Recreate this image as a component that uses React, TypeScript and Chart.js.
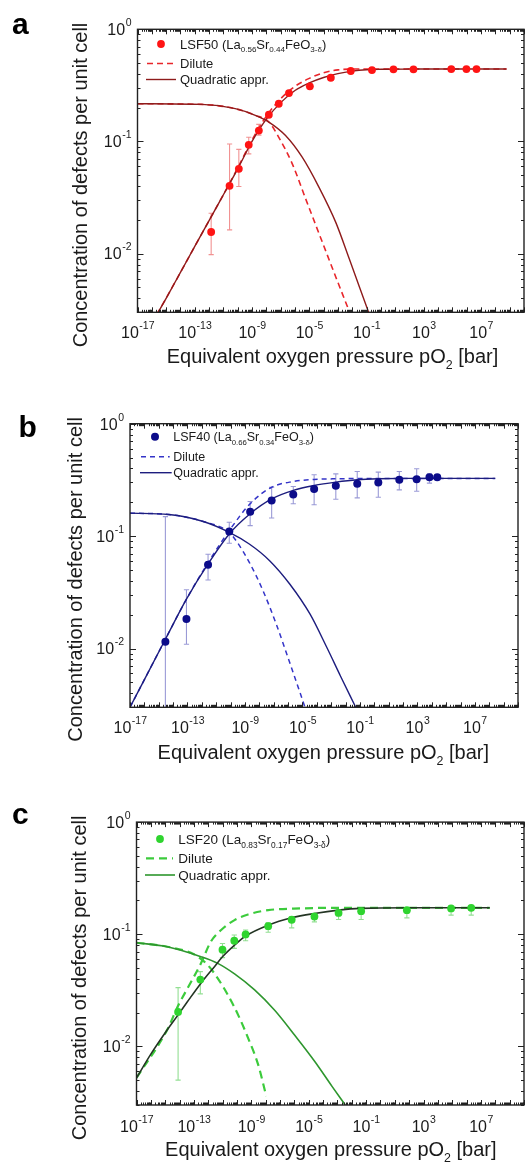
import React, { useEffect, useRef } from "react";
import { Chart, registerables } from "chart.js";
Chart.register(...registerables);

const FONT = 'Arial, "Liberation Sans", Helvetica, sans-serif';

// ---------------- Panel a : LSF50 ----------------
const A_PTS_X = [1.4e-12, 2.7e-11, 1.2e-10, 5.9e-10, 3.0e-9, 1.5e-8, 7.4e-8, 3.8e-7, 1.1e-5, 3.2e-4, 7.9e-3, 0.24, 7.6, 190, 8.3e4, 9.5e5, 4.8e6];
const A_PTS_Y = [0.0156, 0.0402, 0.057, 0.0933, 0.125, 0.173, 0.217, 0.27, 0.31, 0.37, 0.425, 0.433, 0.44, 0.44, 0.442, 0.442, 0.442];
const A_ERR_LO = [0.0098, 0.0163, 0.0397, 0.0776, 0.114, null, null, null, null, null, null, null, null, null, null, null, null];
const A_ERR_HI = [0.0229, 0.095, 0.085, 0.109, 0.142, null, null, null, null, null, null, null, null, null, null, null, null];
const A_QR_X = [1e-16, 1e-15, 1e-14, 1e-13, 1e-12, 1e-11, 1e-10, 1e-9, 1e-8, 1e-7, 1e-6, 1e-5, 1e-4, 1e-3, 1e-2, 1e-1, 1, 100, 6e8];
const A_QR_Y = [0.0024, 0.004, 0.0068, 0.0116, 0.0197, 0.0335, 0.057, 0.1, 0.158, 0.222, 0.285, 0.333, 0.372, 0.403, 0.424, 0.436, 0.44, 0.442, 0.443];
const A_DR_X = [1e-16, 1e-15, 1e-14, 1e-13, 1e-12, 1e-11, 1e-10, 1e-9, 1e-8, 1e-7, 1e-6, 1e-5, 1e-4, 1e-3, 1e-2, 6e8];
const A_DR_Y = [0.0024, 0.004, 0.0068, 0.0116, 0.0197, 0.0335, 0.058, 0.103, 0.168, 0.24, 0.31, 0.365, 0.41, 0.435, 0.442, 0.443];
const A_QF_X = [1e-17, 3.1e-13, 6.8e-11, 1.7e-9, 1.5e-8, 2.2e-7, 3.2e-6, 4.8e-5, 7.1e-4, 6.2e-3, 3.1e-2, 0.14];
const A_QF_Y = [0.217, 0.214, 0.196, 0.171, 0.149, 0.113, 0.0724, 0.039, 0.019, 0.009, 0.0051, 0.003];
const A_DF_X = [1e-17, 3.1e-13, 6.8e-11, 1.7e-9, 1.5e-8, 7.4e-8, 6.5e-7, 5.6e-6, 4.8e-5, 7.1e-4, 6.6e-3];
const A_DF_Y = [0.217, 0.214, 0.196, 0.171, 0.149, 0.109, 0.0632, 0.0308, 0.0151, 0.0062, 0.003];

// ---------------- Panel b : LSF40 ----------------
const B_PTS_X = [2.9e-15, 8.5e-14, 2.7e-12, 8.1e-11, 2.3e-9, 7.2e-8, 2.3e-6, 6.5e-5, 2.1e-3, 6.5e-2, 1.9, 55, 890, 6.9e3, 2.4e4];
const B_PTS_Y = [0.0115, 0.0183, 0.0557, 0.11, 0.165, 0.207, 0.234, 0.262, 0.28, 0.292, 0.3, 0.317, 0.321, 0.3345, 0.3345];
const B_ERR_LO = [0.0005, 0.0109, 0.0407, 0.0863, 0.124, 0.145, 0.194, 0.19, 0.213, 0.219, 0.222, 0.258, 0.251, 0.296, null];
const B_ERR_HI = [0.149, 0.0333, 0.069, 0.133, 0.203, 0.272, 0.276, 0.351, 0.358, 0.376, 0.371, 0.376, 0.397, 0.358, null];
const B_QR_X = [1e-17, 2.9e-15, 8.5e-14, 2.7e-12, 8.1e-11, 2.3e-9, 7.2e-8, 2.3e-6, 6.5e-5, 2.1e-3, 6.5e-2, 1.9, 120, 2.6e8];
const B_QR_Y = [0.003, 0.0121, 0.0275, 0.0565, 0.1045, 0.158, 0.214, 0.255, 0.282, 0.302, 0.317, 0.3235, 0.326, 0.326];
const B_DR_X = [1e-17, 2.9e-15, 8.5e-14, 2.7e-12, 8.1e-11, 2.3e-9, 7.2e-8, 2.3e-6, 6.5e-5, 2.5e-3, 1.0, 2.6e8];
const B_DR_Y = [0.003, 0.0121, 0.0275, 0.058, 0.112, 0.194, 0.272, 0.306, 0.319, 0.3235, 0.326, 0.326];
const B_QF_X = [1e-17, 4.9e-15, 1.1e-12, 8.1e-11, 2.0e-9, 5.2e-8, 1.3e-6, 3.4e-5, 5.0e-4, 4.4e-3, 5.1e-2];
const B_QF_Y = [0.16, 0.1555, 0.1355, 0.108, 0.0851, 0.0605, 0.0375, 0.0202, 0.0102, 0.0057, 0.003];
const B_DF_X = [1e-17, 4.9e-15, 1.1e-12, 8.1e-11, 2.4e-10, 2.0e-9, 1.8e-8, 1.5e-7, 1.3e-6, 6.8e-6, 1.5e-5];
const B_DF_Y = [0.16, 0.1555, 0.1355, 0.108, 0.0912, 0.0585, 0.0327, 0.0165, 0.0075, 0.00405, 0.003];

// ---------------- Panel c : LSF20 ----------------
const C_PTS_X = [7.9e-15, 2.8e-13, 9.8e-12, 6.5e-11, 4.0e-10, 1.5e-8, 6.5e-7, 2.5e-5, 1.2e-3, 4.5e-2, 69, 8.3e4, 2.1e6];
const C_PTS_Y = [0.0203, 0.0394, 0.0728, 0.0875, 0.0997, 0.118, 0.1346, 0.144, 0.155, 0.1607, 0.164, 0.17, 0.172];
const C_ERR_LO = [0.005, 0.0294, 0.0618, 0.0748, 0.0876, 0.104, 0.114, 0.129, 0.1355, 0.1355, 0.14, 0.148, 0.148];
const C_ERR_HI = [0.0334, 0.0464, 0.0828, 0.0985, 0.109, 0.127, 0.144, 0.152, 0.162, 0.168, 0.17, 0.176, 0.178];
const C_QR_X = [1e-17, 9.5e-17, 1.4e-15, 7.9e-15, 3.6e-14, 3.1e-13, 2.7e-12, 9.8e-12, 6.8e-11, 4.0e-10, 1.5e-8, 6.5e-7, 2.5e-5, 1.2e-3, 4.5e-2, 69, 4.1e7];
const C_QR_Y = [0.00523, 0.00844, 0.01406, 0.0191, 0.0251, 0.0366, 0.0514, 0.063, 0.08, 0.0964, 0.1205, 0.14, 0.153, 0.164, 0.17, 0.172, 0.172];
const C_DR_X = [1e-17, 1.4e-15, 7.9e-15, 3.6e-14, 3.1e-13, 1.5e-12, 7.9e-12, 6.8e-11, 5.9e-10, 1.5e-8, 3.2e-6, 7.1e-4, 4.1e7];
const C_DR_Y = [0.00523, 0.0141, 0.023, 0.033, 0.055, 0.0858, 0.109, 0.1336, 0.15, 0.164, 0.17, 0.172, 0.172];
const C_QF_X = [1e-17, 1.4e-15, 3.1e-13, 4.6e-12, 6.8e-11, 1.7e-9, 4.4e-8, 1.1e-6, 2.8e-5, 4.2e-4, 3.5e-3];
const C_QF_Y = [0.084, 0.0774, 0.0631, 0.055, 0.0443, 0.0319, 0.0209, 0.0125, 0.00726, 0.0044, 0.003];
const C_DF_X = [1e-17, 1.4e-15, 1.0e-13, 9.1e-13, 4.6e-12, 2.3e-11, 1.2e-10, 5.9e-10, 3.0e-9, 1.1e-8];
const C_DF_Y = [0.084, 0.0774, 0.0662, 0.0532, 0.0404, 0.0288, 0.0191, 0.0119, 0.00687, 0.0036];

// ---------------- axes / text ----------------
const X_MIN = 1e-17;
const X_MAX = 1e10;
const Y_MIN = 0.003;
const Y_MAX = 1;
const X_LABEL_EXPS = [-17, -13, -9, -5, -1, 3, 7];
const Y_LABEL_EXPS = [0, -1, -2];
const Y_TITLE = "Concentration of defects per unit cell";
const X_TITLE_PARTS = [{ t: "Equivalent oxygen pressure pO" }, { t: "2", sub: true }, { t: " [bar]" }];
const DILUTE_LABEL = "Dilute";
const QUAD_LABEL = "Quadratic appr.";
const A_LEGEND = [{ t: "LSF50 (La" }, { t: "0.56", sub: true }, { t: "Sr" }, { t: "0.44", sub: true }, { t: "FeO" }, { t: "3-δ", sub: true }, { t: ")" }];
const B_LEGEND = [{ t: "LSF40 (La" }, { t: "0.66", sub: true }, { t: "Sr" }, { t: "0.34", sub: true }, { t: "FeO" }, { t: "3-δ", sub: true }, { t: ")" }];
const C_LEGEND = [{ t: "LSF20 (La" }, { t: "0.83", sub: true }, { t: "Sr" }, { t: "0.17", sub: true }, { t: "FeO" }, { t: "3-δ", sub: true }, { t: ")" }];

type Part = { t: string; sub?: boolean };

const zip = (xs: number[], ys: (number | null)[]) => xs.map((x, i) => ({ x, y: ys[i] as number }));

const PANELS = [
  {
    letter: "a", top: 0, H: 390,
    area: { left: 137.5, right: 526, top: 29.3, bottom: 312.3 },
    pts: [A_PTS_X, A_PTS_Y, A_ERR_LO, A_ERR_HI], qr: [A_QR_X, A_QR_Y], dr: [A_DR_X, A_DR_Y], qf: [A_QF_X, A_QF_Y], df: [A_DF_X, A_DF_Y],
    dot: "#ff1414", err: "rgba(236,110,110,0.75)", qrCol: "#8e1b1b", qfCol: "#8e1b1b", dash: "#e8262b",
    dashPat: [6, 4], dashW: 1.6, solidW: 1.4, r: 3.9,
    legend: A_LEGEND, legFont: 13, legDot: [161, 44], legTextX: 180, legRows: [44, 63.5, 79.5], legLine: [146, 176],
    yTitle: [87, 185], xTitle: [332.5, 363.3], letterPos: [12, 34], xLabGap: 26,
  },
  {
    letter: "b", top: 390, H: 385,
    area: { left: 130, right: 518, top: 33.7, bottom: 317.3 },
    pts: [B_PTS_X, B_PTS_Y, B_ERR_LO, B_ERR_HI], qr: [B_QR_X, B_QR_Y], dr: [B_DR_X, B_DR_Y], qf: [B_QF_X, B_QF_Y], df: [B_DF_X, B_DF_Y],
    dot: "#0c0c8a", err: "rgba(120,120,200,0.75)", qrCol: "#1d1d7e", qfCol: "#1d1d7e", dash: "#3434c8",
    dashPat: [5, 4], dashW: 1.5, solidW: 1.4, r: 4,
    legend: B_LEGEND, legFont: 12.5, legDot: [155, 46.7], legTextX: 173.3, legRows: [46.7, 66.7, 82.7], legLine: [140, 171.7],
    yTitle: [82, 189.4], xTitle: [323.3, 369], letterPos: [18.5, 47], xLabGap: 26,
  },
  {
    letter: "c", top: 775, H: 389,
    area: { left: 136.5, right: 526, top: 47.1, bottom: 330 },
    pts: [C_PTS_X, C_PTS_Y, C_ERR_LO, C_ERR_HI], qr: [C_QR_X, C_QR_Y], dr: [C_DR_X, C_DR_Y], qf: [C_QF_X, C_QF_Y], df: [C_DF_X, C_DF_Y],
    dot: "#2fd42f", err: "rgba(120,215,120,0.8)", qrCol: "#243524", qfCol: "#2e962e", dash: "#3ccb3c",
    dashPat: [8, 5], dashW: 2.2, solidW: 1.6, r: 3.9,
    legend: C_LEGEND, legFont: 13.5, legDot: [160, 64], legTextX: 178.3, legRows: [64, 83.3, 100], legLine: [145, 175],
    yTitle: [86, 202.9], xTitle: [330.8, 381], letterPos: [12, 49], xLabGap: 27,
  },
];

function drawRich(ctx: CanvasRenderingContext2D, parts: Part[], x: number, y: number, size: number, measureOnly = false) {
  let cx = x;
  for (const p of parts) {
    const fs = p.sub ? size * 0.62 : size;
    ctx.font = `${fs}px ${FONT}`;
    if (!measureOnly) ctx.fillText(p.t, cx, p.sub ? y + size * 0.28 : y);
    cx += ctx.measureText(p.t).width;
  }
  return cx - x;
}

function makePlugin(cfg: any) {
  return {
    id: "decor" + cfg.letter,
    beforeDatasetsDraw(chart: any) {
      const { ctx, chartArea: ca } = chart;
      const xs = chart.scales.x, ys = chart.scales.y;
      const [px, , lo, hi] = cfg.pts;
      ctx.save();
      ctx.beginPath();
      ctx.rect(ca.left, ca.top, ca.right - ca.left, ca.bottom - ca.top);
      ctx.clip();
      ctx.strokeStyle = cfg.err;
      ctx.lineWidth = 1.1;
      for (let i = 0; i < px.length; i++) {
        if (lo[i] == null || hi[i] == null) continue;
        const x = xs.getPixelForValue(px[i]);
        const y1 = ys.getPixelForValue(lo[i]);
        const y2 = ys.getPixelForValue(hi[i]);
        ctx.beginPath();
        ctx.moveTo(x, y1); ctx.lineTo(x, y2);
        ctx.moveTo(x - 2.6, y1); ctx.lineTo(x + 2.6, y1);
        ctx.moveTo(x - 2.6, y2); ctx.lineTo(x + 2.6, y2);
        ctx.stroke();
      }
      ctx.restore();
    },
    afterDraw(chart: any) {
      const { ctx, chartArea: ca } = chart;
      const xs = chart.scales.x, ys = chart.scales.y;
      ctx.save();
      // frame
      ctx.strokeStyle = "#222";
      ctx.lineWidth = 1.4;
      ctx.strokeRect(ca.left, ca.top, ca.right - ca.left, ca.bottom - ca.top);
      // ticks
      ctx.lineWidth = 1;
      ctx.beginPath();
      for (let e = -17; e <= 10; e++) {
        for (let m = 1; m <= 9; m++) {
          const v = m * Math.pow(10, e);
          if (v < X_MIN * 0.999 || v > X_MAX * 1.001) continue;
          const x = Math.round(xs.getPixelForValue(v)) + 0.5;
          const L = m === 1 ? 5 : 2.5;
          ctx.moveTo(x, ca.bottom); ctx.lineTo(x, ca.bottom - L);
          ctx.moveTo(x, ca.top); ctx.lineTo(x, ca.top + L);
        }
      }
      for (let e = -3; e <= 0; e++) {
        for (let m = 1; m <= 9; m++) {
          const v = m * Math.pow(10, e);
          if (v < Y_MIN * 0.999 || v > Y_MAX * 1.001) continue;
          const y = Math.round(ys.getPixelForValue(v)) + 0.5;
          const L = m === 1 ? 6 : 3;
          ctx.moveTo(ca.left, y); ctx.lineTo(ca.left + L, y);
          ctx.moveTo(ca.right, y); ctx.lineTo(ca.right - L, y);
        }
      }
      ctx.stroke();
      // tick labels
      ctx.fillStyle = "#1a1a1a";
      ctx.textBaseline = "alphabetic";
      ctx.textAlign = "left";
      const base = 16, sup = 10.5;
      for (const e of X_LABEL_EXPS) {
        const x = xs.getPixelForValue(Math.pow(10, e));
        ctx.font = `${base}px ${FONT}`;
        const w1 = ctx.measureText("10").width;
        ctx.font = `${sup}px ${FONT}`;
        const es = String(e);
        const w2 = ctx.measureText(es).width;
        const x0 = x - (w1 + w2) / 2;
        const by = ca.bottom + cfg.xLabGap;
        ctx.font = `${base}px ${FONT}`;
        ctx.fillText("10", x0, by);
        ctx.font = `${sup}px ${FONT}`;
        ctx.fillText(es, x0 + w1 + 0.5, by - 9.5);
      }
      for (const e of Y_LABEL_EXPS) {
        const y = ys.getPixelForValue(Math.pow(10, e));
        ctx.font = `${sup}px ${FONT}`;
        const es = String(e);
        const w2 = ctx.measureText(es).width;
        ctx.font = `${base}px ${FONT}`;
        const w1 = ctx.measureText("10").width;
        const xr = ca.left - 6;
        const by = y + 5.8;
        ctx.fillText("10", xr - w2 - 0.5 - w1, by);
        ctx.font = `${sup}px ${FONT}`;
        ctx.fillText(es, xr - w2, by - 9);
      }
      // y title
      ctx.save();
      ctx.translate(cfg.yTitle[0], cfg.yTitle[1]);
      ctx.rotate(-Math.PI / 2);
      ctx.font = `20px ${FONT}`;
      ctx.textAlign = "center";
      ctx.fillText(Y_TITLE, 0, 0);
      ctx.restore();
      // x title
      ctx.textAlign = "left";
      const tw = drawRich(ctx, X_TITLE_PARTS, 0, 0, 20, true);
      drawRich(ctx, X_TITLE_PARTS, cfg.xTitle[0] - tw / 2, cfg.xTitle[1], 20);
      // panel letter
      ctx.font = `bold 30px ${FONT}`;
      ctx.fillStyle = "#000";
      ctx.fillText(cfg.letter, cfg.letterPos[0], cfg.letterPos[1]);
      // legend
      const fs = cfg.legFont;
      const [r1, r2, r3] = cfg.legRows;
      ctx.fillStyle = cfg.dot;
      ctx.beginPath();
      ctx.arc(cfg.legDot[0], cfg.legDot[1], cfg.r, 0, Math.PI * 2);
      ctx.fill();
      ctx.fillStyle = "#1a1a1a";
      drawRich(ctx, cfg.legend, cfg.legTextX, r1 + fs * 0.36, fs);
      ctx.font = `${fs}px ${FONT}`;
      ctx.fillText(DILUTE_LABEL, cfg.legTextX, r2 + fs * 0.36);
      ctx.fillText(QUAD_LABEL, cfg.legTextX, r3 + fs * 0.36);
      ctx.strokeStyle = cfg.dash;
      ctx.lineWidth = cfg.dashW;
      ctx.setLineDash(cfg.dashPat);
      ctx.beginPath();
      ctx.moveTo(cfg.legLine[0] + 1, r2); ctx.lineTo(cfg.legLine[1] - 2, r2);
      ctx.stroke();
      ctx.setLineDash([]);
      ctx.strokeStyle = cfg.qfCol;
      ctx.lineWidth = cfg.solidW;
      ctx.beginPath();
      ctx.moveTo(cfg.legLine[0], r3); ctx.lineTo(cfg.legLine[1], r3);
      ctx.stroke();
      ctx.restore();
    },
  };
}

function buildConfig(cfg: any): any {
  const W = 528;
  const [px, py] = cfg.pts;
  const line = (xs: number[], ys: number[], color: string, dashed: boolean, label: string) => ({
    type: "line",
    label,
    data: zip(xs, ys),
    borderColor: color,
    backgroundColor: color,
    borderWidth: dashed ? cfg.dashW : cfg.solidW,
    borderDash: dashed ? cfg.dashPat : [],
    pointRadius: 0,
    fill: false,
    cubicInterpolationMode: "monotone",
    clip: 0,
  });
  return {
    type: "scatter",
    data: {
      datasets: [
        {
          type: "scatter",
          label: "points",
          data: zip(px, py),
          pointRadius: cfg.r,
          pointBackgroundColor: cfg.dot,
          pointBorderWidth: 0,
          pointBorderColor: cfg.dot,
          showLine: false,
          clip: 0,
        },
        line(cfg.qr[0], cfg.qr[1], cfg.qrCol, false, "Quadratic appr. (rise)"),
        line(cfg.qf[0], cfg.qf[1], cfg.qfCol, false, "Quadratic appr. (fall)"),
        line(cfg.dr[0], cfg.dr[1], cfg.dash, true, "Dilute (rise)"),
        line(cfg.df[0], cfg.df[1], cfg.dash, true, "Dilute (fall)"),
      ],
    },
    options: {
      animation: false,
      responsive: false,
      devicePixelRatio: 1,
      events: [],
      layout: { padding: { top: cfg.area.top, right: W - cfg.area.right, bottom: 0, left: 0 } },
      plugins: { legend: { display: false }, tooltip: { enabled: false }, title: { display: false } },
      scales: {
        x: {
          type: "logarithmic", min: X_MIN, max: X_MAX,
          ticks: { display: false }, grid: { display: false }, border: { display: false },
          afterFit: (s: any) => { s.height = cfg.H - cfg.area.bottom; },
        },
        y: {
          type: "logarithmic", min: Y_MIN, max: Y_MAX,
          ticks: { display: false }, grid: { display: false }, border: { display: false },
          afterFit: (s: any) => { s.width = cfg.area.left; },
        },
      },
    },
    plugins: [makePlugin(cfg)],
  };
}

function Panel({ cfg }: { cfg: any }) {
  const ref = useRef<HTMLCanvasElement>(null);
  useEffect(() => {
    const chart = new Chart(ref.current as HTMLCanvasElement, buildConfig(cfg));
    return () => chart.destroy();
  }, [cfg]);
  return (
    <canvas
      ref={ref}
      width={528}
      height={cfg.H}
      style={{ position: "absolute", left: 0, top: cfg.top, width: 528, height: cfg.H }}
    />
  );
}

export default function App() {
  return (
    <div style={{ position: "absolute", left: 0, top: 0, width: 528, height: 1164, background: "#fff", overflow: "hidden" }}>
      {PANELS.map((p) => (
        <Panel key={p.letter} cfg={p} />
      ))}
    </div>
  );
}
